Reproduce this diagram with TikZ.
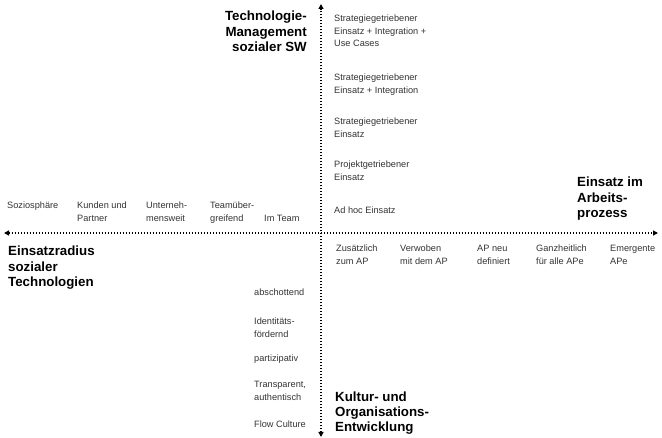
\documentclass[tikz,border=0pt]{standalone}
\usepackage{fontspec}
\setmainfont{Liberation Sans}
\usepackage{tikz}
\usetikzlibrary{arrows.meta}
\tikzset{
  axis/.style={{Triangle[length=5pt,width=5pt]}-{Triangle[length=5pt,width=5pt]},
               line width=1.5pt, dash pattern=on 1.5pt off 1.5pt},
  item/.style={anchor=base west, inner sep=0pt, align=left, text=black!80,
               font=\fontsize{9.2}{12.5}\selectfont},
  ttl/.style={anchor=base west, inner sep=0pt, align=left,
              font=\fontsize{13.3}{15.5}\selectfont\bfseries},
}

\begin{document}
\begin{tikzpicture}[x=1pt, y=-1pt]
\useasboundingbox (0,0) rectangle (662,438);
% ---- axes ----
\coordinate (top) at (321,4);
\coordinate (bottom) at (321,437);
\coordinate (left) at (4,233);
\coordinate (right) at (658,233);
\draw[axis] (left) -- (right);
\draw[axis] (bottom) -- (top);
% ---- axis titles (base = last line) ----
\node[ttl, anchor=base east, align=right] (tech) at (307,52)
  {Technologie-\\ Management\\ sozialer SW};
\node[ttl] (radius) at (8,287) {Einsatzradius\\ sozialer\\ Technologien};
\node[ttl] (prozess) at (577,218) {Einsatz im\\ Arbeits-\\ prozess};
\node[ttl] (kultur) at (335,432) {Kultur- und\\ Organisations-\\ Entwicklung};
% ---- upper axis: management ----
\node[item] (s3) at (334,47) {Strategiegetriebener\\ Einsatz + Integration +\\ Use Cases};
\node[item] (s2) at (334,93.5) {Strategiegetriebener\\ Einsatz + Integration};
\node[item] (s1) at (334,137.5) {Strategiegetriebener\\ Einsatz};
\node[item] (proj) at (334,180.5) {Projektgetriebener\\ Einsatz};
\node[item] (adhoc) at (334,214) {Ad hoc Einsatz};
% ---- left axis: radius ----
\node[item] (sozio) at (7,209) {Soziosphäre};
\node[item] (kunden) at (77,221.5) {Kunden und\\ Partner};
\node[item] (unt) at (146,221.5) {Unterneh-\\ mensweit};
\node[item] (teamueb) at (210,221.5) {Teamüber-\\ greifend};
\node[item] (team) at (264,222) {Im Team};
% ---- right axis: process ----
\node[item] (zus) at (336,264.5) {Zusätzlich\\ zum AP};
\node[item] (verw) at (400,264.5) {Verwoben\\ mit dem AP};
\node[item] (apneu) at (477,264.5) {AP neu\\ definiert};
\node[item] (ganz) at (536,264.5) {Ganzheitlich\\ für alle APe};
\node[item] (emerg) at (610,264.5) {Emergente\\ APe};
% ---- lower axis: culture ----
\node[item] (absch) at (254,296) {abschottend};
\node[item] (ident) at (254,337.5) {Identitäts-\\ fördernd};
\node[item] (parti) at (254,362) {partizipativ};
\node[item] (transp) at (254,400.5) {Transparent,\\ authentisch};
\node[item] (flow) at (254,428) {Flow Culture};
\end{tikzpicture}
\end{document}
